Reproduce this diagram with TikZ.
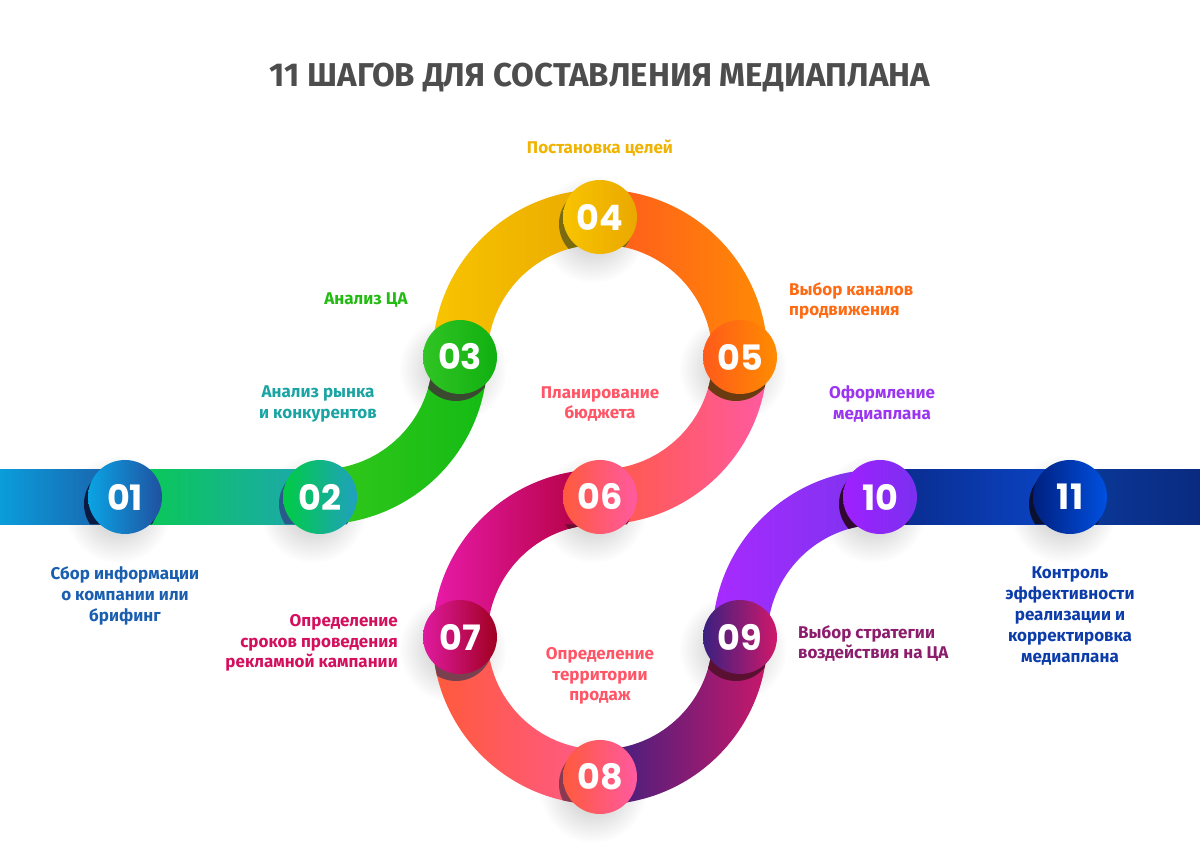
\documentclass[tikz,border=0pt]{standalone}
\usepackage{fontspec}
\setmainfont{Fira Sans}
\newfontfamily\numfont{Poppins}
\usetikzlibrary{fadings}
\tikzfading[name=softcirc, inner color=transparent!0, outer color=transparent!100]
\definecolor{ttl}{HTML}{4D4D4D}
\definecolor{l1}{HTML}{1A5EB0}
\definecolor{l2}{HTML}{1BA4A4}
\definecolor{l3}{HTML}{22BB11}
\definecolor{l4}{HTML}{F0B400}
\definecolor{l5}{HTML}{FF6A13}
\definecolor{l6}{HTML}{FF5566}
\definecolor{l7}{HTML}{D4105E}
\definecolor{l8}{HTML}{FF5566}
\definecolor{l9}{HTML}{8C1C6C}
\definecolor{l10}{HTML}{9B35F0}
\definecolor{l11}{HTML}{0B3CAA}
% path of one band sector (centre x, centre y, start angle, end angle)
\newcommand\sectorpath[4]{%
    ([shift={(#1,#2)}]#3:167.5) arc[start angle=#3, end angle=#4, radius=167.5]
    -- ([shift={(#1,#2)}]#4:112.5) arc[start angle=#4, end angle=#3, radius=112.5] -- cycle}
\newcommand\bandsector[6]{\shade[left color=#5, right color=#6] \sectorpath{#1}{#2}{#3}{#4};}
\tikzset{
  stepnum/.style={circle, minimum size=74pt, inner sep=0pt, text=white,
    font=\numfont\bfseries\fontsize{35}{35}\selectfont},
  lab/.style={inner sep=0pt, font=\bfseries\fontsize{17}{20.8}\selectfont},
}
\begin{document}
\begin{tikzpicture}[x=1pt,y=1pt]
\useasboundingbox (0,0) rectangle (1200,866);
\fill[white] (0,0) rectangle (1200,866);
% soft shadows
\foreach \x/\y in {125/369, 320/369, 460/509, 600/649, 740/509, 600/369, 460/229, 600/89, 740/229, 880/369, 1070/369}
  \fill[black, opacity=0.25, path fading=softcirc] (\x-7,\y-12) circle (54);
% bands
\shade[left color={rgb,255:red,10;green,157;blue,219}, right color={rgb,255:red,29;green,91;blue,166}] (0,341.5) rectangle (125,396.5);
\shade[left color={rgb,255:red,8;green,204;blue,76}, right color={rgb,255:red,30;green,165;blue,180}] (125,341.5) rectangle (320,396.5);
\bandsector{320}{509}{-90}{0}{{rgb,255:red,51;green,200;blue,28}}{{rgb,255:red,20;green,187;blue,20}}
\bandsector{600}{509}{180}{90}{{rgb,255:red,248;green,196;blue,0}}{{rgb,255:red,233;green,168;blue,0}}
\bandsector{600}{509}{90}{0}{{rgb,255:red,255;green,90;blue,30}}{{rgb,255:red,255;green,138;blue,5}}
\bandsector{600}{509}{0}{-90}{{rgb,255:red,255;green,90;blue,69}}{{rgb,255:red,255;green,90;blue,160}}
\bandsector{600}{229}{90}{180}{{rgb,255:red,232;green,26;blue,168}}{{rgb,255:red,176;green,0;blue,58}}
\bandsector{600}{229}{180}{270}{{rgb,255:red,255;green,90;blue,58}}{{rgb,255:red,255;green,90;blue,140}}
\bandsector{600}{229}{270}{360}{{rgb,255:red,58;green,32;blue,128}}{{rgb,255:red,200;green,24;blue,106}}
\bandsector{880}{229}{180}{90}{{rgb,255:red,168;green,42;blue,255}}{{rgb,255:red,122;green,52;blue,238}}
\shade[left color={rgb,255:red,10;green,42;blue,138}, right color={rgb,255:red,10;green,70;blue,200}] (880,341.5) rectangle (1070,396.5);
\shade[left color={rgb,255:red,10;green,58;blue,154}, right color={rgb,255:red,10;green,42;blue,128}] (1070,341.5) rectangle (1200,396.5);
% dark crescents, kept on the band
\begin{scope}
  \clip (0,341.5) rectangle (1200,396.5)
    \sectorpath{320}{509}{-90}{0}
    \sectorpath{600}{509}{180}{-90}
    \sectorpath{600}{229}{90}{360}
    \sectorpath{880}{229}{180}{90};
  \foreach \x/\y/\c in {125/369/0A1A40, 320/369/2A5A8A, 460/509/3A4A30, 600/649/7A6A10, 740/509/6A3A10, 600/369/6A1030, 460/229/7A4050, 600/89/8A3A50, 740/229/5A1030, 880/369/300830, 1070/369/0A1030}
    {\definecolor{crs}{HTML}{\c}\fill[crs] (\x-4,\y-7) circle (37);}
\end{scope}
% circles
\node[stepnum, left color={rgb,255:red,10;green,164;blue,228}, right color={rgb,255:red,32;green,80;blue,160}] (n1) at (125,369) {01};
\node[stepnum, left color={rgb,255:red,0;green,204;blue,68}, right color={rgb,255:red,32;green,160;blue,192}] (n2) at (320,369) {02};
\node[stepnum, left color={rgb,255:red,48;green,196;blue,36}, right color={rgb,255:red,16;green,176;blue,16}] (n3) at (460,509) {03};
\node[stepnum, left color={rgb,255:red,248;green,196;blue,0}, right color={rgb,255:red,234;green,168;blue,0}] (n4) at (600,649) {04};
\node[stepnum, left color={rgb,255:red,255;green,90;blue,26}, right color={rgb,255:red,255;green,140;blue,0}] (n5) at (740,509) {05};
\node[stepnum, left color={rgb,255:red,255;green,90;blue,60}, right color={rgb,255:red,255;green,90;blue,160}] (n6) at (600,369) {06};
\node[stepnum, left color={rgb,255:red,224;green,26;blue,160}, right color={rgb,255:red,160;green,0;blue,32}] (n7) at (460,229) {07};
\node[stepnum, left color={rgb,255:red,255;green,90;blue,60}, right color={rgb,255:red,255;green,90;blue,160}] (n8) at (600,89) {08};
\node[stepnum, left color={rgb,255:red,58;green,32;blue,128}, right color={rgb,255:red,208;green,24;blue,106}] (n9) at (740,229) {09};
\node[stepnum, left color={rgb,255:red,160;green,32;blue,255}, right color={rgb,255:red,122;green,48;blue,240}] (n10) at (880,369) {10};
\node[stepnum, left color={rgb,255:red,0;green,32;blue,128}, right color={rgb,255:red,0;green,80;blue,224}] (n11) at (1070,369) {11};
% title
\node[inner sep=0pt, text=ttl, font=\bfseries\fontsize{33}{33}\selectfont] (title) at (600,788) {11 ШАГОВ ДЛЯ СОСТАВЛЕНИЯ МЕДИАПЛАНА};
% labels
\node[lab, text=l1, align=center] (t1) at (125,270) {Сбор информации\\о компании или\\брифинг};
\node[lab, text=l2, align=center] (t2) at (318,462) {Анализ рынка\\и конкурентов};
\node[lab, text=l3, align=center] (t3) at (366,566) {Анализ ЦА};
\node[lab, text=l4, align=center] (t4) at (600,718) {Постановка целей};
\node[lab, text=l5, align=left, anchor=west] (t5) at (789,565) {Выбор каналов\\продвижения};
\node[lab, text=l6, align=center] (t6) at (600,462) {Планирование\\бюджета};
\node[lab, text=l7, align=right, anchor=east] (t7) at (398,223) {Определение\\сроков проведения\\рекламной кампании};
\node[lab, text=l8, align=center] (t8) at (600,190) {Определение\\территории\\продаж};
\node[lab, text=l9, align=left, anchor=west] (t9) at (798,222.5) {Выбор стратегии\\воздействия на ЦА};
\node[lab, text=l10, align=center] (t10) at (882,462) {Оформление\\медиаплана};
\node[lab, text=l11, align=center] (t11) at (1070,250) {Контроль\\эффективности\\реализации и\\корректировка\\медиаплана};
\end{tikzpicture}
\end{document}
